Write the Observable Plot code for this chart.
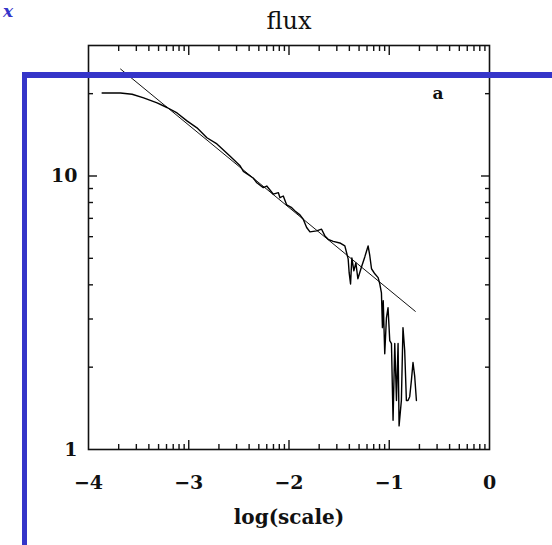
<!DOCTYPE html>
<html>
<head>
<meta charset="utf-8">
<script src="https://cdn.jsdelivr.net/npm/d3@7"></script>
<script src="https://cdn.jsdelivr.net/npm/@observablehq/plot@0.6"></script>
<style>
  html, body { margin: 0; padding: 0; background: #fff; }
  #wrap { position: relative; width: 552px; height: 545px; overflow: hidden; }
  #wrap svg { position: absolute; left: 0; top: 0; }
  .blue { position: absolute; background: #3535c9; }
  #glyph { position: absolute; left: 3px; top: 1px; font: italic bold 17px "DejaVu Serif", serif; line-height: normal; color: #3535c9; }
</style>
</head>
<body>
<div id="wrap">
  <div id="glyph">x</div>
</div>
<script>
// ---- data ----
const dataX = [-3.864,-3.682,-3.565,-3.450,-3.316,-3.217,-3.117,-3.018,-2.918,-2.819,
  -2.719,-2.587,-2.488,-2.455,-2.358,-2.321,-2.256,-2.222,-2.156,-2.106,
  -2.090,-2.057,-2.023,-1.973,-1.940,-1.891,-1.858,-1.824,-1.791,-1.724,
  -1.675,-1.642,-1.609,-1.559,-1.493,-1.443,-1.410,-1.400,-1.386,-1.373,
  -1.353,-1.333,-1.313,-1.277,-1.244,-1.211,-1.194,-1.177,-1.144,-1.111,
  -1.095,-1.078,-1.068,-1.060,-1.045,-1.028,-1.012,-0.995,-0.978,-0.962,
  -0.945,-0.928,-0.912,-0.902,-0.879,-0.863,-0.846,-0.829,-0.813,-0.796,
  -0.779,-0.763,-0.746,-0.729];
const dataY = [20.1,20.1,19.9,19.3,18.5,17.8,17.0,15.9,15.0,13.8,
  13.1,11.8,10.9,10.4,9.83,9.45,9.07,9.19,8.58,8.69,
  8.33,8.45,7.84,7.66,7.45,7.21,6.95,6.48,6.25,6.30,
  6.39,6.04,5.87,5.77,5.69,5.55,4.98,4.43,4.03,5.02,
  4.50,4.81,4.21,4.65,5.06,5.55,5.11,4.58,4.39,4.25,
  4.04,3.74,2.79,3.50,2.24,3.03,3.30,2.50,2.44,1.28,
  2.44,1.51,2.44,1.22,1.51,2.79,2.30,1.51,1.51,1.56,
  1.79,2.08,1.85,1.51];
const fitX = [-3.68, -0.74];
const fitY = [24.6, 3.2];

const xTickLabels = [-4, -3, -2, -1, 0];
const xMajorTicks = [-3, -2, -1];
const xDecades = [-4, -3, -2, -1];
const yTickLabels = [1, 10];
const yMajorTicks = [10];
const yMinorTicks = [2, 3, 4, 5, 6, 7, 8, 9, 20];
const titleText = "flux";
const xLabelText = "log(scale)";
const panelText = "a";

// ---- build tables ----
const data = dataX.map((x, i) => ({x, y: dataY[i]}));
const fit = fitX.map((x, i) => ({x, y: fitY[i]}));
const xMinorTicks = xDecades.flatMap(d => [2,3,4,5,6,7,8,9].map(k => d + Math.log10(k)));

const font = '"DejaVu Serif", serif';
const tk = (ticks, anchor, size, axis) => (axis === "x" ? Plot.axisX : Plot.axisY)(ticks, {
  anchor, tickSize: -size, tickFormat: () => "", label: null, strokeWidth: 1.4, stroke: "#111"
});

const chart = Plot.plot({
  width: 552,
  height: 545,
  marginLeft: 88,
  marginRight: 63,
  marginTop: 45,
  marginBottom: 96,
  style: {fontFamily: font, background: "transparent", color: "#111"},
  x: {domain: [-4, 0], axis: null},
  y: {type: "log", domain: [1, 30], axis: null},
  marks: [
    tk(xMajorTicks, "bottom", 9, "x"),
    tk(xMinorTicks, "bottom", 5, "x"),
    tk(xMajorTicks, "top", 9, "x"),
    tk(xMinorTicks, "top", 5, "x"),
    tk(yMajorTicks, "left", 9, "y"),
    tk(yMinorTicks, "left", 5, "y"),
    tk(yMajorTicks, "right", 9, "y"),
    tk(yMinorTicks, "right", 5, "y"),
    Plot.frame({stroke: "#111", strokeWidth: 1.6}),
    Plot.line(fit, {x: "x", y: "y", stroke: "#111", strokeWidth: 1}),
    Plot.line(data, {x: "x", y: "y", stroke: "#000", strokeWidth: 1.4, curve: "linear"}),
    Plot.text(xTickLabels, {
      x: d => d, frameAnchor: "bottom", dy: 33, lineAnchor: "middle",
      text: d => d < 0 ? "\u2212" + Math.abs(d) : String(d),
      fontSize: 19, fontWeight: "bold", fill: "#111"
    }),
    Plot.text(yTickLabels, {
      y: d => d, frameAnchor: "left", dx: -11, textAnchor: "end", lineAnchor: "middle",
      text: d => String(d), fontSize: 19, fontWeight: "bold", fill: "#111"
    }),
    Plot.text([xLabelText], {
      frameAnchor: "bottom", dy: 68, lineAnchor: "middle",
      text: d => d, fontSize: 20, fontWeight: "bold", fill: "#111"
    }),
    Plot.text([titleText], {
      frameAnchor: "top", dy: -24, lineAnchor: "middle",
      text: d => d, fontSize: 24, fill: "#111"
    }),
    Plot.text([panelText], {
      frameAnchor: "top-right", dx: -46, dy: 48, lineAnchor: "middle",
      text: d => d, fontSize: 17, fontWeight: "bold", fill: "#111"
    })
  ]
});

const wrap = document.getElementById("wrap");
wrap.insertBefore(chart, wrap.firstChild);
// slide annotation frame (blue)
const h = document.createElement("div");
h.className = "blue";
Object.assign(h.style, {left: "22px", top: "72px", width: "530px", height: "6px"});
const v = document.createElement("div");
v.className = "blue";
Object.assign(v.style, {left: "22px", top: "72px", width: "5px", height: "473px"});
wrap.appendChild(h);
wrap.appendChild(v);
</script>
</body>
</html>
